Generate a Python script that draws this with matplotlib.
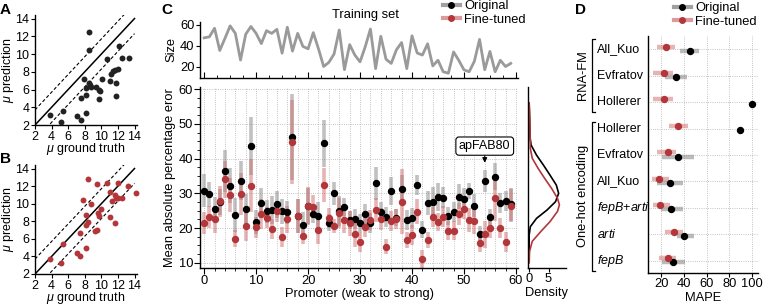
import numpy as np
import matplotlib
matplotlib.use('Agg')
import matplotlib.pyplot as plt
from matplotlib.lines import Line2D

plt.rcParams['font.family'] = ['Liberation Sans', 'DejaVu Sans']
plt.rcParams['mathtext.fontset'] = 'custom'
plt.rcParams['mathtext.it'] = 'Liberation Sans:italic'
plt.rcParams['mathtext.rm'] = 'Liberation Sans'
plt.rcParams['font.size'] = 9.3
plt.rcParams['axes.linewidth'] = 1.0

# ---- panel A / B : predicted vs ground truth mu
a_true = [3.8, 5.1, 5.4, 7.1, 7.5, 7.5, 7.9, 8.1, 8.1, 8.2, 8.5, 8.5, 8.6, 8.8, 9.3,
          8.5, 9.7, 9.7, 9.8, 10.1, 10.7, 11.1, 11.2, 11.4, 11.6, 11.8, 11.8, 12.0,
          12.1, 12.5, 13.3]
a_pred = [3.1, 2.3, 3.6, 3.0, 2.6, 5.0, 7.2, 3.3, 5.4, 6.2, 6.7, 10.5, 6.5, 6.3, 6.3,
          12.5, 6.0, 4.9, 5.8, 7.2, 9.4, 7.0, 7.8, 8.1, 8.2, 6.7, 5.3, 8.3,
          10.9, 9.6, 9.5]
b_true = [3.8, 5.1, 5.4, 7.1, 7.4, 7.4, 7.8, 8.1, 8.1, 8.1, 8.4, 8.4, 8.7, 9.2, 9.5,
          9.5, 9.6, 9.7, 9.9, 10.7, 11.0, 11.1, 11.3, 11.6, 11.7, 11.8, 12.0, 12.0,
          12.5, 13.2, 14.2]
b_pred = [3.7, 3.2, 5.4, 4.4, 4.0, 6.7, 10.4, 5.0, 7.6, 8.7, 7.9, 12.8, 10.0, 6.9, 7.0,
          12.2, 8.9, 8.6, 9.4, 12.4, 8.5, 11.3, 10.3, 7.8, 11.0, 10.7, 12.3, 10.6,
          10.6, 12.0, 11.2]
band = 1.7

# ---- panel C : per promoter MAPE
train_size = [47.5, 48.5, 56.7, 35.4, 47, 59, 51.8, 26.2, 51, 58.4,
              51.8, 42, 54.4, 51.8, 55.7, 32.8, 57.7, 34.8, 51.8, 39.3,
              37, 52.5, 37, 20, 24, 32, 55, 17, 41, 31,
              24.5, 39, 56, 18, 49, 27, 23, 36, 43, 18,
              49.5, 33, 31, 41.8, 20.6, 26, 15, 13.6, 34, 26,
              16.8, 15, 25, 46, 17, 34.5, 15, 26, 20, 23]
orig_mape = [30.8, 29.8, 25.4, 27.5, 36.5, 32.2, 23.8, 33.7, 25.6, 43.7,
             21.7, 27.3, 24.8, 25.2, 26.8, 24.8, 24.5, 46.2, 23.5, 20.9,
             26.3, 24.0, 23.6, 44.4, 21.6, 30.0, 25.0, 26.1, 22.4, 22.6,
             21.5, 24.0, 21.5, 32.9, 24.7, 23.3, 30.7, 23.0, 31.3, 22.4,
             22.8, 32.4, 19.5, 27.3, 27.6, 28.9, 28.8, 23.5, 24.6, 29.0,
             28.4, 30.7, 26.5, 18.3, 33.6, 23.2, 34.8, 27.2, 27.8, 26.8]
orig_err = [4.8, 3.6, 3.6, 3.8, 6.0, 5.0, 5.0, 5.5, 4.3, 8.4,
            3.4, 4.3, 3.4, 4.1, 3.8, 3.6, 3.4, 12.4, 4.8, 3.6,
            5.3, 2.4, 3.8, 6.7, 2.4, 3.4, 4.3, 2.6, 2.6, 2.9,
            2.6, 2.9, 2.9, 4.8, 2.9, 2.9, 4.1, 2.4, 4.1, 2.9,
            2.9, 2.9, 2.4, 3.4, 4.1, 4.1, 3.1, 2.6, 2.9, 3.6,
            3.1, 2.4, 3.4, 2.4, 3.1, 2.4, 3.8, 2.9, 2.9, 4.8]
ft_mape = [21.4, 23.2, 22.5, 27.7, 34.0, 29.5, 17.0, 29.8, 20.6, 32.2,
           20.2, 24.0, 23.0, 19.8, 24.8, 17.4, 22.5, 44.8, 23.5, 17.8,
           26.5, 26.2, 19.4, 32.4, 23.0, 20.6, 24.4, 22.3, 21.4, 18.3,
           16.1, 20.4, 22.4, 25.2, 22.6, 14.7, 22.0, 22.7, 27.6, 16.6,
           18.0, 24.7, 11.1, 16.6, 23.3, 21.7, 23.3, 19.3, 19.3, 24.0,
           25.5, 22.4, 22.0, 15.6, 18.2, 20.0, 28.6, 20.0, 16.0, 26.5]
ft_err = [3.1, 3.1, 3.8, 4.5, 5.3, 5.0, 2.4, 6.0, 4.3, 7.7,
          3.1, 4.3, 3.1, 2.9, 3.1, 2.9, 3.8, 12.0, 4.8, 2.4,
          5.3, 3.4, 4.1, 4.8, 2.9, 1.9, 4.3, 3.8, 3.6, 3.6,
          2.9, 3.1, 2.9, 3.4, 3.1, 2.2, 2.9, 2.9, 9.3, 2.4,
          2.9, 3.6, 2.6, 2.4, 2.9, 2.6, 3.1, 2.6, 2.6, 3.1,
          2.9, 3.4, 3.6, 2.4, 3.8, 2.9, 6.7, 2.9, 2.9, 4.8]

# density curves (MAPE level, density)
dens_orig_y = [56, 50, 46, 43.9, 41.0, 38.1, 35.2, 32.4, 30.0, 27.6, 25.2, 22.8, 20.4, 18.0, 12]
dens_orig_x = [0.0, 0.15, 0.25, 0.5, 1.9, 3.7, 5.4, 7.0, 7.6, 6.8, 4.6, 1.9, 0.3, 0.0, 0.0]
dens_ft_y = [56, 50, 46, 42.9, 40.1, 37.2, 34.3, 31.4, 28.6, 26.7, 24.8, 21.9, 19.0, 16.2, 13.3, 10]
dens_ft_x = [0.0, 0.2, 0.25, 0.3, 0.8, 2.3, 4.0, 5.8, 7.3, 7.8, 7.3, 5.4, 3.0, 0.8, 0.1, 0.0]

# ---- panel D : MAPE per dataset
d_labels = ['All_Kuo', 'Evfratov', 'Hollerer', 'Hollerer', 'Evfratov', 'All_Kuo',
            '$\\it{fepB}$+$\\it{arti}$', '$\\it{arti}$', '$\\it{fepB}$']
d_orig = [45.0, 33.0, 100.0, 89.0, 34.4, 27.9, 28.8, 40.0, 30.3]
d_orig_lo = [36.8, 23.5, 100.0, 89.0, 20.6, 16.2, 20.0, 34.0, 21.0]
d_orig_hi = [53.5, 42.7, 100.0, 89.0, 48.5, 38.8, 38.8, 48.5, 41.0]
d_ft = [24.1, 22.0, 22.0, 34.7, 25.9, 18.0, 18.5, 31.0, 25.6]
d_ft_lo = [16.2, 12.3, 13.0, 26.5, 16.2, 12.0, 13.0, 23.0, 18.0]
d_ft_hi = [32.3, 30.0, 30.0, 43.5, 33.2, 27.0, 28.0, 39.0, 33.0]

GRAY = '#8e8e8e'
RED = '#b3363a'
PINK = '#cf6b6b'

W, H = 764, 305
def box(x0, y0, x1, y1):
    return [x0 / W, 1 - y1 / H, (x1 - x0) / W, (y1 - y0) / H]

fig = plt.figure(figsize=(W / 100, H / 100), dpi=100)

def scatter_panel(rect, xs, ys, color):
    ax = fig.add_axes(rect)
    lim = np.array([2, 14])
    ax.plot(lim, lim, color='k', lw=1.1)
    ax.plot(lim, lim + band, color='k', lw=0.8, ls=(0, (3, 2)))
    ax.plot(lim, lim - band, color='k', lw=0.8, ls=(0, (3, 2)))
    ax.scatter(xs, ys, s=18, color=color, lw=0, zorder=3, clip_on=False)
    ax.set_xlim(2, 14.3)
    ax.set_ylim(2, 14.4)
    ax.set_xticks(range(2, 15, 2))
    ax.set_yticks(range(2, 15, 2))
    ax.spines[['top', 'right']].set_visible(False)
    ax.tick_params(length=3, pad=1, labelsize=9)
    ax.set_xlabel('$\\mu$ ground truth', labelpad=-1, fontsize=9)
    ax.set_ylabel('$\\mu$ prediction', fontsize=9)
    ax.yaxis.set_label_coords(-0.19, 0.5)
    return ax

scatter_panel(box(35, 15, 137, 125), a_true, a_pred, '#222222')
scatter_panel(box(35, 165, 137, 274), b_true, b_pred, RED)

# ---- C top: training set size
x = np.arange(len(orig_mape))
ax_top = fig.add_axes(box(200, 21.7, 518, 78))
ax_top.plot(x, train_size, color='#9a9a9a', lw=2)
ax_top.set_xlim(-0.8, 60.4)
ax_top.set_ylim(9, 63)
ax_top.set_yticks([20, 40, 60])
ax_top.set_xticks(range(0, 61, 10))
ax_top.set_xticks(np.arange(0, 61, 2.5), minor=True)
ax_top.tick_params(axis='x', labelbottom=False, length=4, direction='in')
ax_top.tick_params(axis='x', which='minor', length=2, direction='in')
ax_top.tick_params(axis='y', length=3, pad=1)
ax_top.spines[['top', 'right']].set_visible(False)
ax_top.set_ylabel('Size', labelpad=2)

handles = [Line2D([], [], color='#a0a0a0', lw=3, marker='o', ms=4, mfc='k', mec='k'),
           Line2D([], [], color='#dd9a9a', lw=3, marker='o', ms=4, mfc=RED, mec=RED)]
fig.legend(handles, ['Original', 'Fine-tuned'], loc='upper left',
           bbox_to_anchor=(443 / W, 1 - 0 / H), frameon=False, numpoints=1,
           handlelength=1.3, handletextpad=0.35, labelspacing=0.15,
           borderpad=0, borderaxespad=0)
fig.text(365 / W, 1 - 15 / H, 'Training set', ha='center', va='center')

# ---- C main
ax = fig.add_axes(box(200, 86.7, 518, 267.7))
om, oe = np.array(orig_mape), np.array(orig_err)
fm, fe = np.array(ft_mape), np.array(ft_err)
ax.vlines(x, om - oe, om + oe, color=GRAY, alpha=0.55, lw=2.6, zorder=2)
ax.vlines(x, fm - fe, fm + fe, color=PINK, alpha=0.5, lw=2.6, zorder=2)
ax.plot(x, om, 'o', color='k', ms=4.3, zorder=3)
ax.plot(x, fm, 'o', color=RED, ms=4.3, zorder=3)
ax.set_xlim(-0.8, 60.4)
ax.set_ylim(8.6, 60.7)
ax.set_xticks(range(0, 61, 10))
ax.set_xticks(range(0, 61, 2), minor=True)
ax.set_yticks(range(10, 61, 10))
ax.set_yticks(np.arange(10, 61, 2.5), minor=True)
ax.grid(True, which='major', color='#b0b0b0', lw=0.6, ls=':')
ax.grid(True, which='minor', axis='x', color='#b0b0b0', lw=0.6, ls=':')
ax.set_axisbelow(True)
ax.tick_params(length=4, pad=1)
ax.tick_params(which='minor', length=2)
ax.spines[['top', 'right']].set_visible(False)
ax.set_xlabel('Promoter (weak to strong)', labelpad=1)
ax.set_ylabel('Mean absolute percentage eror', labelpad=2)
ax.annotate('apFAB80', xy=(54, 38.8), xytext=(54, 43.6), ha='center', va='center',
            fontsize=9,
            bbox=dict(boxstyle='round,pad=0.25', fc='white', ec='k', lw=0.8),
            arrowprops=dict(arrowstyle='-|>', color='k', lw=0.8,
                            mutation_scale=7, shrinkA=0, shrinkB=0))

# ---- C density
ax_d = fig.add_axes(box(528, 86.7, 566, 267.7))
ax_d.plot(dens_orig_x, dens_orig_y, color='k', lw=1.2)
ax_d.plot(dens_ft_x, dens_ft_y, color=RED, lw=1.2)
ax_d.set_ylim(8.6, 60.7)
ax_d.set_xlim(-0.3, 9.5)
ax_d.set_xticks([0, 5])
ax_d.set_yticks([])
ax_d.tick_params(length=3, pad=1)
ax_d.spines[['top', 'right']].set_visible(False)
ax_d.set_xlabel('Density', labelpad=1)

# ---- D
ax4 = fig.add_axes(box(647.7, 36, 757.7, 272.7))
yy = np.arange(len(d_labels))
ax4.hlines(yy + 0.06, d_orig_lo, d_orig_hi, color=GRAY, alpha=0.6, lw=3.2, zorder=2)
ax4.hlines(yy - 0.1, d_ft_lo, d_ft_hi, color=PINK, alpha=0.5, lw=3.2, zorder=2)
ax4.plot(d_orig, yy + 0.06, 'o', color='k', ms=4.3, zorder=3, clip_on=False)
ax4.plot(d_ft, yy - 0.1, 'o', color=RED, ms=4.3, zorder=3)
ax4.set_ylim(8.45, -0.5)
ax4.set_xlim(8, 105)
ax4.set_xticks(range(20, 101, 20))
ax4.set_yticks(yy)
ax4.set_yticklabels([])
ax4.tick_params(axis='y', length=0)
ax4.tick_params(axis='x', length=3, pad=1)
ax4.grid(True, color='#b0b0b0', lw=0.6, ls=':')
ax4.set_axisbelow(True)
ax4.spines[['top', 'right']].set_visible(False)
ax4.set_xlabel('MAPE', labelpad=1)
tr = ax4.get_yaxis_transform()
for yi, lab in zip(yy, d_labels):
    ax4.text(-0.46, yi, lab, transform=tr, ha='left', va='center', fontsize=9)
for (y0, y1, name) in [(-0.39, 2.37, 'RNA-FM'), (2.74, 8.38, 'One-hot encoding')]:
    ax4.plot([-0.48, -0.51, -0.51, -0.48], [y0, y0, y1, y1], color='k', lw=0.9,
             transform=tr, clip_on=False)
    ax4.text(-0.585, (y0 + y1) / 2, name, transform=tr, rotation=90,
             ha='center', va='center')
fig.legend(handles, ['Original', 'Fine-tuned'], loc='upper left',
           bbox_to_anchor=(674 / W, 1 - 2 / H), frameon=False, numpoints=1,
           handlelength=1.3, handletextpad=0.35, labelspacing=0.15,
           borderpad=0, borderaxespad=0)

# panel letters
for lx, ly, letter in [(0, 3, 'A'), (0, 152, 'B'), (161, 3, 'C'), (575, 3, 'D')]:
    fig.text(lx / W, 1 - ly / H, letter, fontsize=11, fontweight='bold', va='top')

fig.savefig('out.png', dpi=100)
